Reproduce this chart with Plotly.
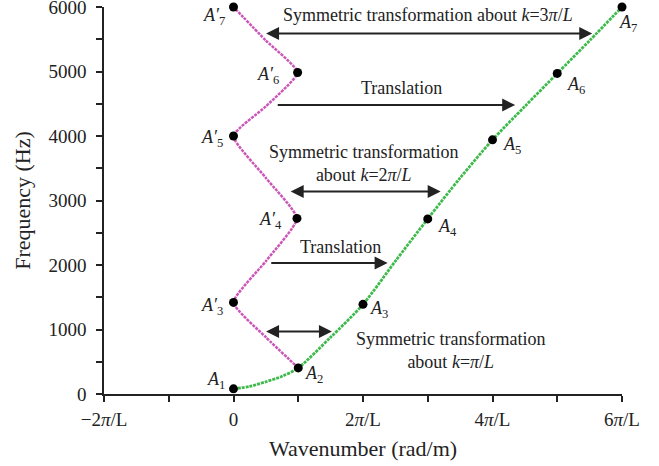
import plotly.graph_objects as go

# Dispersion curve sampled along the wavenumber axis (units of pi/L)
k_curve = [0, 0.25, 0.5, 0.75, 1, 1.5, 2, 2.5, 3, 3.5, 4, 4.5, 5, 5.5, 6]
f_curve = [80, 118, 190, 275, 405, 880, 1390, 2060, 2715, 3350, 3940, 4460, 4970, 5480, 6000]

# Marked points A1..A7 on the curve
k_marks = [0, 1, 2, 3, 4, 5, 6]
f_marks = [80, 405, 1390, 2715, 3940, 4970, 6000]
mark_names = ["1", "2", "3", "4", "5", "6", "7"]

# Folded branch inside the first zone, starting at A2
k_fold = [1, 0.5, 0, 0.5, 0.98, 0.5, 0, 0.5, 0.99, 0.5, 0]
f_fold = [405, 880, 1420, 2060, 2722, 3350, 4000, 4460, 4985, 5480, 6000]

# Marked folded points A3'..A7'
k_fold_marks = [0, 0.98, 0, 0.99, 0]
f_fold_marks = [1420, 2722, 4000, 4985, 6000]
fold_names = ["3", "4", "5", "6", "7"]

# Tick labels on the wavenumber axis
x_tickvals = [-2, 0, 2, 4, 6]
x_ticktext = ["\u22122<i>\u03c0</i>/L", "0", "2<i>\u03c0</i>/L", "4<i>\u03c0</i>/L", "6<i>\u03c0</i>/L"]

GREEN = "#3dba4b"
PINK = "#cc55b8"
INK = "#222222"
FONT = "Liberation Serif"

fig = go.Figure()

fig.add_trace(go.Scatter(
    x=k_fold, y=f_fold, mode="lines",
    line=dict(color=PINK, width=2.5, dash="3px,1px", shape="spline", smoothing=0.5),
    hoverinfo="skip", cliponaxis=False,
))
fig.add_trace(go.Scatter(
    x=k_curve, y=f_curve, mode="lines",
    line=dict(color=GREEN, width=2.8, dash="3px,1px", shape="spline", smoothing=0.8),
    hoverinfo="skip", cliponaxis=False,
))
fig.add_trace(go.Scatter(
    x=k_marks + k_fold_marks, y=f_marks + f_fold_marks, mode="markers",
    marker=dict(color="black", size=9),
    hoverinfo="skip", cliponaxis=False,
))

annotations = []

# Labels for the points on the dispersion curve: (x offset, y offset, anchor)
curve_label_offsets = [
    (-7, 8, "right"),
    (5, -7, "left"),
    (5, -5, "left"),
    (8, -9, "left"),
    (8, -6, "left"),
    (8, -12, "left"),
    (-5, -16, "left"),
]
for k, f, name, (dx, dy, anc) in zip(k_marks, f_marks, mark_names, curve_label_offsets):
    annotations.append(dict(
        x=k, y=f, xref="x", yref="y", showarrow=False,
        text=f"<i>A</i><sub>{name}</sub>", xanchor=anc, yanchor="middle",
        xshift=dx, yshift=dy, font=dict(family=FONT, size=18, color=INK),
    ))

# Labels for the folded points
fold_label_offsets = [(-9, -4), (-13, -2), (-9, -2), (-17, -3), (-7, -9)]
for k, f, name, (dx, dy) in zip(k_fold_marks, f_fold_marks, fold_names, fold_label_offsets):
    annotations.append(dict(
        x=k, y=f, xref="x", yref="y", showarrow=False,
        text=f"<i>A\u2032</i><sub>{name}</sub>", xanchor="right", yanchor="middle",
        xshift=dx, yshift=dy, font=dict(family=FONT, size=18, color=INK),
    ))

# Transformation arrows: (tail k, head k, frequency, double-headed)
arrows = [
    (0.48, 1.52, 970, True),
    (0.56, 2.38, 2030, False),
    (0.86, 3.20, 3140, True),
    (0.66, 4.35, 4480, False),
    (0.48, 5.54, 5590, True),
]
for k0, k1, f, both in arrows:
    annotations.append(dict(
        x=k1, y=f, ax=k0, ay=f, xref="x", yref="y", axref="x", ayref="y",
        text="", showarrow=True, arrowhead=2, startarrowhead=2, arrowsize=1.3,
        startarrowsize=1.3, arrowwidth=2, arrowcolor=INK,
        arrowside="end+start" if both else "end",
    ))

# Descriptive texts
texts = [
    (3.0, 5875, "Symmetric transformation about <i>k</i>=3<i>\u03c0</i>/<i>L</i>"),
    (2.6, 4745, "Translation"),
    (2.0, 3580, "Symmetric transformation<br>about <i>k</i>=2<i>\u03c0</i>/<i>L</i>"),
    (1.66, 2285, "Translation"),
    (3.35, 670, "Symmetric transformation<br>about <i>k</i>=<i>\u03c0</i>/<i>L</i>"),
]
for x, y, t in texts:
    annotations.append(dict(
        x=x, y=y, xref="x", yref="y", showarrow=False, text=t,
        xanchor="center", yanchor="middle", align="center",
        font=dict(family=FONT, size=18, color=INK),
    ))

fig.update_layout(
    width=659, height=466,
    margin=dict(l=104, r=37, t=7, b=72),
    paper_bgcolor="white", plot_bgcolor="white",
    showlegend=False,
    annotations=annotations,
    font=dict(family=FONT, size=19, color=INK),
)
fig.update_xaxes(
    range=[-2, 6], showgrid=False, zeroline=False, automargin=False,
    showline=True, linecolor=INK, linewidth=1.5,
    ticks="outside", ticklen=6, tickwidth=1.5, tickcolor=INK,
    tickvals=x_tickvals, ticktext=x_ticktext, ticklabelstandoff=1,
    ticklabeloverflow="allow",
    minor=dict(tickvals=[-1, 1, 3, 5], ticks="outside", ticklen=6, tickwidth=1.5, tickcolor=INK),
    title=dict(text="Wavenumber (rad/m)", font=dict(family=FONT, size=22), standoff=12),
    tickfont=dict(family=FONT, size=19, color=INK),
)
fig.update_yaxes(
    range=[0, 6000], showgrid=False, zeroline=False, automargin=False,
    showline=True, linecolor=INK, linewidth=1.5,
    ticks="outside", ticklen=6, tickwidth=1.5, tickcolor=INK,
    tickvals=[0, 1000, 2000, 3000, 4000, 5000, 6000], ticklabelstandoff=6,
    ticklabeloverflow="allow",
    minor=dict(tickvals=[500, 1500, 2500, 3500, 4500, 5500], ticks="outside", ticklen=6, tickwidth=1.5, tickcolor=INK),
    title=dict(text="Frequency (Hz)", font=dict(family=FONT, size=22), standoff=12),
    tickfont=dict(family=FONT, size=19, color=INK),
)

fig.write_html("out.html")
